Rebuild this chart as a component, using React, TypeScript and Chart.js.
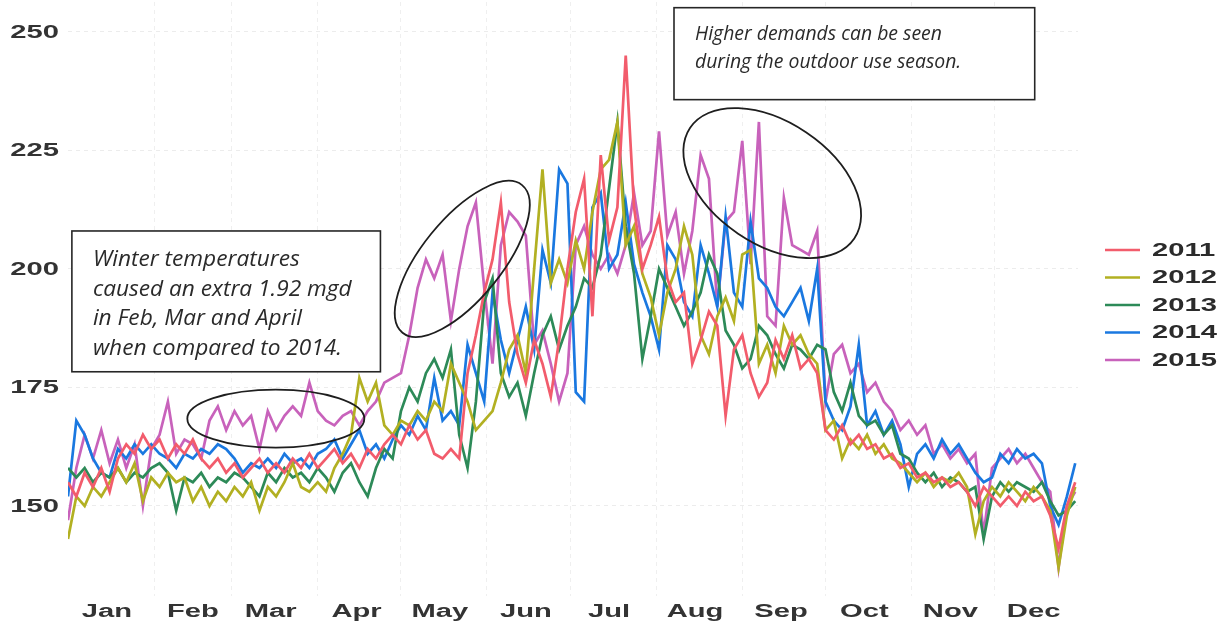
import React, { useEffect, useRef } from "react";
import { Chart, registerables } from "chart.js";

Chart.register(...registerables);

// ---- data (sampled every 3 days, day-of-year index) ----
const days = [
  0, 3, 6, 9, 12, 15, 18, 21, 24, 27,
  30, 33, 36, 39, 42, 45, 48, 51, 54, 57,
  60, 63, 66, 69, 72, 75, 78, 81, 84, 87,
  90, 93, 96, 99, 102, 105, 108, 111, 114, 117,
  120, 123, 126, 129, 132, 135, 138, 141, 144, 147,
  150, 153, 156, 159, 162, 165, 168, 171, 174, 177,
  180, 183, 186, 189, 192, 195, 198, 201, 204, 207,
  210, 213, 216, 219, 222, 225, 228, 231, 234, 237,
  240, 243, 246, 249, 252, 255, 258, 261, 264, 267,
  270, 273, 276, 279, 282, 285, 288, 291, 294, 297,
  300, 303, 306, 309, 312, 315, 318, 321, 324, 327,
  330, 333, 336, 339, 342, 345, 348, 351, 354, 357,
  360, 363,
];

const y2011 = [
  155, 152, 157, 154, 158, 153, 160, 163, 161, 165,
  162, 164, 160, 163, 161, 164, 160, 158, 160, 157,
  159, 156, 158, 160, 157, 159, 157, 160, 158, 161,
  158, 160, 162, 159, 161, 158, 162, 160, 163, 165,
  163, 167, 164, 166, 161, 160, 162, 160, 178, 186,
  195, 202, 214, 193, 182, 176, 185, 180, 173, 185,
  200, 212, 219, 190, 224, 206, 213, 245, 213, 200,
  205, 211, 198, 193, 195, 180, 185, 191, 188, 169,
  183, 186, 178, 173, 176, 185, 181, 186, 179, 181,
  178, 166, 164, 167, 163, 165, 162, 163, 160, 161,
  158, 159, 156, 157, 155, 156, 154, 155, 153, 150,
  154, 152, 150, 152, 150, 153, 151, 152, 148, 141,
  150, 155,
];

const y2012 = [
  143, 152, 150, 154, 152, 155, 158, 155, 159, 151,
  156, 154, 157, 155, 156, 151, 154, 150, 153, 151,
  154, 152, 155, 149, 154, 152, 155, 159, 154, 153,
  155, 153, 158, 161, 165, 177, 172, 176, 167, 165,
  168, 167, 170, 168, 172, 170, 180, 176, 172, 166,
  168, 170, 176, 183, 186, 178, 200, 221, 197, 202,
  197, 206, 200, 212, 221, 223, 231, 205, 209, 199,
  194, 186, 195, 200, 209, 203, 186, 182, 190, 194,
  189, 203, 204, 180, 184, 178, 188, 184, 186, 182,
  180, 166, 168, 160, 164, 162, 165, 161, 163, 160,
  159, 157, 155, 157, 154, 156, 155, 157, 154, 144,
  151, 154, 152, 155, 153, 151, 154, 152, 149, 137,
  148, 154,
];

const y2013 = [
  158, 156, 158, 155, 157, 156, 158, 155, 157, 156,
  158, 159, 157, 149, 156, 155, 157, 154, 156, 155,
  157, 156, 154, 152, 157, 155, 158, 156, 157, 155,
  158, 156, 153, 157, 159, 155, 152, 158, 162, 160,
  170, 175, 172, 178, 181, 177, 183, 165, 158, 172,
  193, 198, 178, 173, 176, 169, 178, 186, 190, 183,
  188, 192, 198, 196, 203, 217, 231, 209, 199, 181,
  190, 200, 196, 192, 188, 191, 195, 203, 199, 187,
  184, 179, 181, 188, 186, 182, 179, 184, 183, 181,
  184, 183, 174, 170, 176, 169, 167, 168, 165, 167,
  161, 160, 157, 155, 157, 154, 156, 155, 153, 154,
  143, 152, 155, 153, 155, 154, 153, 155, 151, 148,
  149, 151,
];

const y2014 = [
  152, 168, 165, 160, 157, 156, 162, 160, 163, 161,
  163, 161, 160, 158, 161, 160, 162, 161, 163, 162,
  160, 157, 159, 158, 160, 158, 161, 159, 160, 158,
  161, 162, 164, 160, 163, 166, 161, 163, 160, 164,
  167, 165, 169, 166, 177, 168, 170, 167, 184, 178,
  172, 195, 185, 178, 185, 192, 183, 204, 197, 221,
  218, 174, 172, 213, 216, 200, 203, 214, 201, 195,
  190, 183, 205, 202, 193, 190, 205, 199, 192, 211,
  195, 192, 210, 198, 196, 192, 190, 193, 196, 189,
  200, 172, 168, 166, 171, 184, 167, 170, 165, 168,
  163, 154, 161, 163, 160, 164, 161, 163, 160, 157,
  155, 156, 161, 159, 162, 160, 161, 159, 150, 146,
  152, 159,
];

const y2015 = [
  147, 158, 165, 160, 166, 159, 164, 158, 163, 150,
  162, 165, 172, 161, 164, 163, 160, 168, 171, 166,
  170, 167, 169, 162, 170, 166, 169, 171, 169, 176,
  170, 168, 167, 169, 170, 167, 170, 172, 176, 177,
  178, 186, 196, 202, 198, 203, 189, 200, 209, 214,
  196, 180, 205, 212, 210, 207, 184, 187, 180, 172,
  178, 205, 209, 203, 200, 203, 199, 205, 216, 205,
  208, 229, 207, 212, 199, 208, 224, 219, 192, 210,
  212, 227, 201, 231, 190, 188, 215, 205, 204, 203,
  208, 172, 182, 184, 178, 180, 174, 176, 172, 170,
  166, 168, 165, 167, 161, 163, 160, 162, 159, 161,
  144, 158, 160, 162, 159, 161, 158, 155, 153, 137,
  150, 153,
];

const years = ["2011", "2012", "2013", "2014", "2015"];
const seriesValues = [y2011, y2012, y2013, y2014, y2015];
const colors = ["#f25c6c", "#b2b022", "#2d8a58", "#1a78e0", "#c862bb"];

const monthLabels = ["Jan", "Feb", "Mar", "Apr", "May", "Jun", "Jul", "Aug", "Sep", "Oct", "Nov", "Dec"];
const monthStarts = [0, 31, 59, 90, 120, 151, 181, 212, 243, 273, 304, 334];
const yTicks = [150, 175, 200, 225, 250];

const note1 = [
  "Winter temperatures",
  "caused an extra 1.92 mgd",
  "in Feb, Mar and April",
  "when compared to 2014.",
];
const note2 = ["Higher demands can be seen", "during the outdoor use season."];

const AXIS_FONT = "bold 18px 'Liberation Sans', Arial, sans-serif";
const STRETCH = 1.62;

function stretchText(
  ctx: CanvasRenderingContext2D,
  t: string,
  x: number,
  y: number,
  align: CanvasTextAlign,
  sx: number
) {
  ctx.save();
  ctx.translate(x, y);
  ctx.scale(sx, 1);
  ctx.textAlign = align;
  ctx.textBaseline = "middle";
  ctx.fillText(t, 0, 0);
  ctx.restore();
}

function drawNote(
  ctx: CanvasRenderingContext2D,
  lines: string[],
  left: number,
  top: number,
  right: number,
  bottom: number,
  fitWidth: number,
  firstOffset: number,
  lineGap: number
) {
  ctx.save();
  ctx.fillStyle = "#ffffff";
  ctx.fillRect(left, top, right - left, bottom - top);
  ctx.strokeStyle = "#262626";
  ctx.lineWidth = 1.6;
  ctx.strokeRect(left, top, right - left, bottom - top);
  let size = 20;
  ctx.font = `italic ${size}px 'Open Sans', 'Noto Sans', sans-serif`;
  const w = ctx.measureText(lines[0]).width;
  size = (size * fitWidth) / w;
  ctx.font = `italic ${size}px 'Open Sans', 'Noto Sans', sans-serif`;
  ctx.fillStyle = "#2a2a2a";
  ctx.textAlign = "left";
  ctx.textBaseline = "middle";
  lines.forEach((l, i) => {
    ctx.fillText(l, left + 21, top + firstOffset + i * lineGap);
  });
  ctx.restore();
}

const overlayPlugin = {
  id: "overlay",
  afterDatasetsDraw(chart: any) {
    const ctx: CanvasRenderingContext2D = chart.ctx;
    const x = chart.scales.x;
    const y = chart.scales.y;
    ctx.save();
    ctx.fillStyle = "#333333";
    ctx.font = AXIS_FONT;
    yTicks.forEach((v) => stretchText(ctx, String(v), 59, y.getPixelForValue(v) + 1, "right", STRETCH));
    monthLabels.forEach((m, i) =>
      stretchText(ctx, m, x.getPixelForValue(monthStarts[i] + 14), 612, "center", STRETCH)
    );

    years.forEach((yr, i) => {
      const cy = 250 + i * 27.5;
      ctx.strokeStyle = colors[i];
      ctx.lineWidth = 2.5;
      ctx.beginPath();
      ctx.moveTo(1105, cy);
      ctx.lineTo(1140, cy);
      ctx.stroke();
      ctx.fillStyle = "#2b2b2b";
      ctx.font = AXIS_FONT;
      stretchText(ctx, yr, 1152, cy + 1, "left", STRETCH);
    });

    drawNote(
      ctx,
      note1,
      x.getPixelForValue(1.4),
      y.getPixelForValue(208.0),
      x.getPixelForValue(112.6),
      y.getPixelForValue(178.3),
      207,
      29,
      29.5
    );
    drawNote(
      ctx,
      note2,
      x.getPixelForValue(218.4),
      y.getPixelForValue(255.1),
      x.getPixelForValue(348.4),
      y.getPixelForValue(235.7),
      247,
      27,
      28
    );

    const ellipses = [
      { d: 74.9, v: 168.4, a: 88.5, b: 29, rot: 0 },
      { d: 142.1, v: 202.1, a: 95, b: 40, rot: (-51 * Math.PI) / 180 },
      { d: 253.8, v: 218.1, a: 99, b: 61, rot: (34 * Math.PI) / 180 },
    ];
    ctx.strokeStyle = "#1e1e1e";
    ctx.lineWidth = 1.8;
    ellipses.forEach((e) => {
      ctx.beginPath();
      ctx.ellipse(x.getPixelForValue(e.d), y.getPixelForValue(e.v), e.a, e.b, e.rot, 0, Math.PI * 2);
      ctx.stroke();
    });
    ctx.restore();
  },
};

export default function App() {
  const canvasRef = useRef<HTMLCanvasElement | null>(null);

  useEffect(() => {
    if (!canvasRef.current) return;
    const chart = new Chart(canvasRef.current, {
      type: "line",
      data: {
        datasets: years.map((yr, k) => ({
          label: yr,
          data: days.map((d, i) => ({ x: d, y: seriesValues[k][i] })),
          borderColor: colors[k],
          backgroundColor: colors[k],
          borderWidth: 2.7,
          pointRadius: 0,
          tension: 0,
          fill: false,
        })),
      },
      options: {
        animation: false,
        responsive: false,
        maintainAspectRatio: false,
        events: [],
        layout: { padding: { left: 68, right: 149, top: 2, bottom: 29 } },
        plugins: { legend: { display: false }, tooltip: { enabled: false } },
        scales: {
          x: {
            type: "linear",
            min: 0,
            max: 364,
            ticks: { display: false },
            grid: { color: "#efefef", lineWidth: 1, drawTicks: false },
            border: { display: false, dash: [4, 4] },
            afterBuildTicks: (s: any) => {
              s.ticks = monthStarts.slice(1).map((v) => ({ value: v }));
            },
          },
          y: {
            type: "linear",
            min: 131,
            max: 256.3,
            ticks: { display: false },
            grid: { color: "#ececec", lineWidth: 1, drawTicks: false },
            border: { display: false, dash: [4, 4] },
            afterBuildTicks: (s: any) => {
              s.ticks = yTicks.map((v) => ({ value: v }));
            },
          },
        },
      } as any,
      plugins: [overlayPlugin],
    });
    return () => chart.destroy();
  }, []);

  return (
    <div style={{ position: "fixed", left: 0, top: 0, width: 1227, height: 625, background: "#ffffff" }}>
      <canvas ref={canvasRef} width={1227} height={625} style={{ width: 1227, height: 625, display: "block" }} />
    </div>
  );
}
